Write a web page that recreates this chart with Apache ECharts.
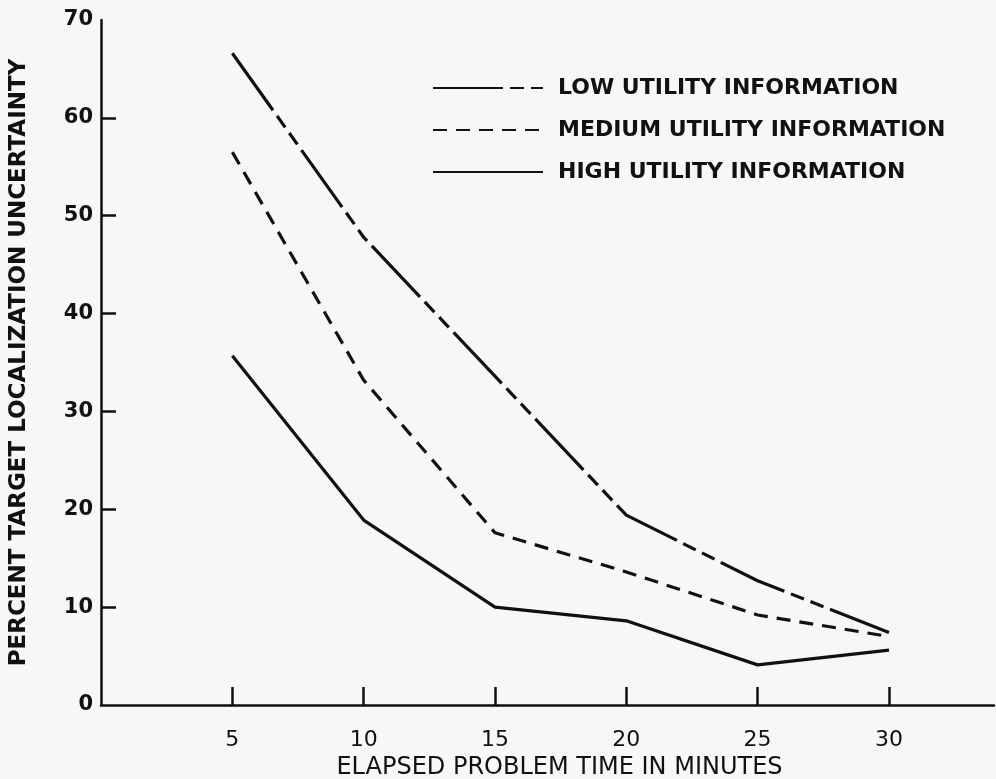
<!DOCTYPE html>
<html>
<head>
<meta charset="utf-8">
<title>Target localization uncertainty</title>
<script src="https://cdn.jsdelivr.net/npm/echarts@6/dist/echarts.min.js"></script>
<style>
  html, body { margin: 0; padding: 0; background: #f7f7f5; }
  #chart { width: 996px; height: 779px; }
</style>
</head>
<body>
<div id="chart"></div>
<script>
// elapsed problem time (minutes)
const minutes = [5, 10, 15, 20, 25, 30];
// percent target localization uncertainty
const lowUtility = [66.6, 47.8, 33.6, 19.4, 12.7, 7.4];
const mediumUtility = [56.5, 33.2, 17.6, 13.6, 9.2, 7.0];
const highUtility = [35.7, 18.9, 10.0, 8.6, 4.1, 5.6];
const yTicks = [10, 20, 30, 40, 50, 60];
const yLabels = [0, 10, 20, 30, 40, 50, 60, 70];

const font = "DejaVu Sans";
const ink = "#111";

function pairs(values) {
  return minutes.map((m, i) => [m, values[i]]);
}

const chart = echarts.init(document.getElementById("chart"));

chart.setOption({
  backgroundColor: "#f7f7f5",
  animation: false,
  grid: {
    left: 101,
    right: 2,
    top: 20,
    bottom: 74,
    outerBoundsMode: "none",
    containLabel: false,
  },
  legend: {
    orient: "vertical",
    left: 427,
    top: 72,
    itemWidth: 110,
    itemHeight: 14,
    itemGap: 20,
    itemStyle: { opacity: 0 },
    textStyle: {
      fontFamily: font,
      fontSize: 22,
      fontWeight: "bold",
      color: ink,
      lineHeight: 22,
      padding: [0, 0, 0, 10],
    },
    data: ["LOW UTILITY INFORMATION", "MEDIUM UTILITY INFORMATION", "HIGH UTILITY INFORMATION"],
  },
  xAxis: {
    type: "value",
    min: 0,
    max: 34,
    interval: 5,
    name: "ELAPSED PROBLEM TIME IN MINUTES",
    nameLocation: "middle",
    nameGap: 51,
    nameMoveOverlap: false,
    nameTextStyle: {
      fontFamily: font,
      fontSize: 24,
      color: ink,
      padding: [0, 0, 0, 24],
    },
    splitLine: { show: false },
    axisLine: { lineStyle: { color: ink, width: 2.5 } },
    axisTick: {
      inside: true,
      length: 18,
      customValues: minutes,
      lineStyle: { color: ink, width: 2.5 },
    },
    axisLabel: {
      customValues: minutes,
      margin: 24,
      fontFamily: font,
      fontSize: 22,
      color: ink,
    },
  },
  yAxis: {
    type: "value",
    min: 0,
    max: 70,
    interval: 10,
    name: "PERCENT TARGET LOCALIZATION UNCERTAINTY",
    nameLocation: "middle",
    nameGap: 70,
    nameMoveOverlap: false,
    nameTextStyle: {
      fontFamily: font,
      fontSize: 23,
      fontWeight: "bold",
      color: ink,
    },
    splitLine: { show: false },
    axisLine: { show: true, lineStyle: { color: ink, width: 2.5 } },
    axisTick: {
      show: true,
      inside: true,
      length: 15,
      customValues: yTicks,
      lineStyle: { color: ink, width: 2.5 },
    },
    axisLabel: {
      customValues: yLabels,
      margin: 8,
      fontFamily: font,
      fontSize: 21,
      fontWeight: "bold",
      color: ink,
    },
  },
  series: [
    {
      name: "LOW UTILITY INFORMATION",
      type: "line",
      symbol: "none",
      data: pairs(lowUtility),
      lineStyle: { color: ink, width: 3.2, type: [70, 7, 14, 7, 14, 7] },
      itemStyle: { color: ink },
    },
    {
      name: "MEDIUM UTILITY INFORMATION",
      type: "line",
      symbol: "none",
      data: pairs(mediumUtility),
      lineStyle: { color: ink, width: 3.2, type: [14, 9] },
      itemStyle: { color: ink },
    },
    {
      name: "HIGH UTILITY INFORMATION",
      type: "line",
      symbol: "none",
      data: pairs(highUtility),
      lineStyle: { color: ink, width: 3.2 },
      itemStyle: { color: ink },
    },
  ],
});
</script>
</body>
</html>
